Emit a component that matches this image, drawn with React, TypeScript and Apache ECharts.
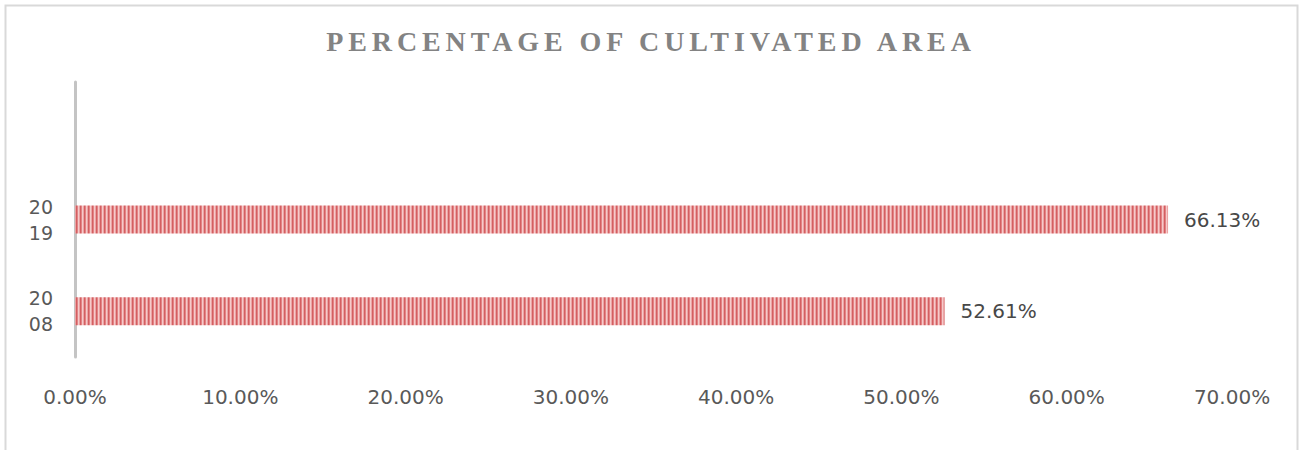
import React, { useEffect, useRef } from 'react';
import * as echarts from 'echarts';

const titleText = 'PERCENTAGE OF CULTIVATED AREA';
const categories = ['20\n08', '20\n19', ''];
const values: (number | null)[] = [52.61, 66.13, null];
const xMin = 0;
const xMax = 70;
const xInterval = 10;

function makeStripe(): HTMLCanvasElement {
  const c = document.createElement('canvas');
  c.width = 4;
  c.height = 4;
  const ctx = c.getContext('2d');
  const cols = ['#d35f61', '#e38385', '#f5caca', '#eba3a4'];
  if (ctx) {
    cols.forEach((col, i) => {
      ctx.fillStyle = col;
      ctx.fillRect(i, 0, 1, 4);
    });
  }
  return c;
}

export default function App() {
  const ref = useRef<HTMLDivElement>(null);

  useEffect(() => {
    document.body.style.margin = '0';
    if (!ref.current) return;
    const chart = echarts.init(ref.current, undefined, { renderer: 'svg' });
    const stripe = makeStripe();
    chart.setOption({
      animation: false,
      backgroundColor: '#ffffff',
      title: {
        text: titleText,
        left: 'center',
        top: 22,
        textStyle: {
          fontFamily: 'Liberation Serif',
          fontWeight: 'bold',
          fontSize: 28,
          color: '#838383',
        },
      },
      graphic: [
        {
          type: 'rect',
          shape: { x: 5.5, y: 5.5, width: 1292, height: 520 },
          style: { fill: 'none', stroke: '#d9d9d9', lineWidth: 2 },
          silent: true,
        },
      ],
      grid: { left: 75, right: 70, top: 82, bottom: 93, containLabel: false },
      xAxis: {
        type: 'value',
        min: xMin,
        max: xMax,
        interval: xInterval,
        axisLine: { show: false },
        axisTick: { show: false },
        splitLine: { show: false },
        axisLabel: {
          margin: 30,
          fontFamily: 'DejaVu Sans',
          fontSize: 20,
          color: '#595959',
          formatter: (v: number) => v.toFixed(2) + '%',
        },
      },
      yAxis: {
        type: 'category',
        data: categories,
        axisLine: { show: true, lineStyle: { color: '#c4c4c4', width: 3 } },
        axisTick: { show: false },
        splitLine: { show: false },
        axisLabel: {
          margin: 22,
          fontFamily: 'DejaVu Sans',
          fontSize: 19,
          lineHeight: 26,
          color: '#595959',
        },
      },
      series: [
        {
          type: 'bar',
          data: values,
          barWidth: 28,
          itemStyle: { color: { image: stripe, repeat: 'repeat' } },
          label: {
            show: true,
            position: 'right',
            distance: 16,
            fontFamily: 'DejaVu Sans',
            fontSize: 20,
            color: '#484848',
            formatter: (p: any) => (p.value == null ? '' : Number(p.value).toFixed(2) + '%'),
          },
        },
      ],
    });
    return () => chart.dispose();
  }, []);

  return (
    <>
      <style>{`svg text[style*="Liberation Serif"] { letter-spacing: 4.9px; }`}</style>
      <div ref={ref} style={{ width: 1302, height: 450 }} />
    </>
  );
}
